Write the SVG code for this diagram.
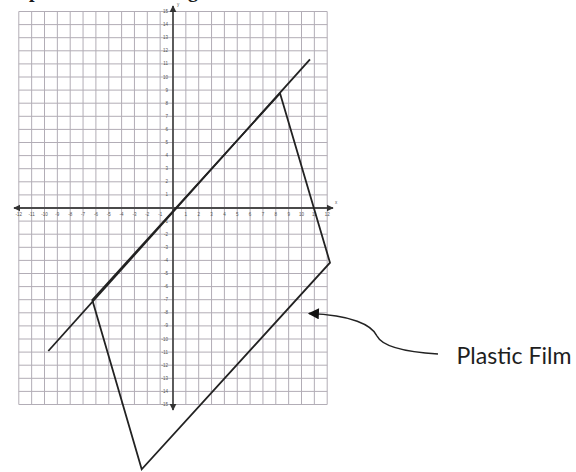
<svg xmlns="http://www.w3.org/2000/svg" width="576" height="472" viewBox="0 0 576 472">
<defs>
<style>
.grid{fill:none;stroke:#b2adb6;stroke-width:1}
.axis{fill:none;stroke:#4a4a4a;stroke-width:1.8}
.tick{font-family:"Liberation Sans",Arial,sans-serif;font-size:4.5px;fill:#555}
.shape{fill:none;stroke:#222;stroke-width:1.8;stroke-linejoin:miter}
.lbl{font-family:Lato,"Liberation Sans",sans-serif;font-size:23px;fill:#1e1e1e}
.head{font-family:"Liberation Serif",serif;font-size:20px;font-weight:bold;fill:#1a1a1a}
</style>
<marker id="ah" viewBox="0 0 10 10" refX="9" refY="5" markerWidth="4" markerHeight="4" orient="auto-start-reverse">
<path d="M0,0 L10,5 L0,10 z" fill="#333"/>
</marker>
<marker id="pt" viewBox="0 0 10 10" refX="9" refY="5" markerWidth="13" markerHeight="11" markerUnits="userSpaceOnUse" orient="auto">
<path d="M0,0 L10,5 L0,10 z" fill="#111"/>
</marker>
</defs>
<rect width="576" height="472" fill="#fff"/>
<g id="heading">
<text class="head" x="29" y="-3">p</text>
<text class="head" x="188" y="-3">g</text>
</g>
<g id="grid">
<path class="grid" d="M18.8,11.5V404.5M31.65,11.5V404.5M44.5,11.5V404.5M57.35,11.5V404.5M70.2,11.5V404.5M83.05,11.5V404.5M95.9,11.5V404.5M108.75,11.5V404.5M121.6,11.5V404.5M134.45,11.5V404.5M147.3,11.5V404.5M160.15,11.5V404.5M185.85,11.5V404.5M198.7,11.5V404.5M211.55,11.5V404.5M224.4,11.5V404.5M237.25,11.5V404.5M250.1,11.5V404.5M262.95,11.5V404.5M275.8,11.5V404.5M288.65,11.5V404.5M301.5,11.5V404.5M314.35,11.5V404.5M327.2,11.5V404.5
M18.8,11.5H327.2M18.8,24.6H327.2M18.8,37.7H327.2M18.8,50.8H327.2M18.8,63.9H327.2M18.8,77H327.2M18.8,90.1H327.2M18.8,103.2H327.2M18.8,116.3H327.2M18.8,129.4H327.2M18.8,142.5H327.2M18.8,155.6H327.2M18.8,168.7H327.2M18.8,181.8H327.2M18.8,194.9H327.2M18.8,221.1H327.2M18.8,234.2H327.2M18.8,247.3H327.2M18.8,260.4H327.2M18.8,273.5H327.2M18.8,286.6H327.2M18.8,299.7H327.2M18.8,312.8H327.2M18.8,325.9H327.2M18.8,339H327.2M18.8,352.1H327.2M18.8,365.2H327.2M18.8,378.3H327.2M18.8,391.4H327.2M18.8,404.5H327.2"/>
</g>
<g id="axes">
<line class="axis" x1="14" y1="208" x2="333" y2="208" marker-start="url(#ah)" marker-end="url(#ah)"/>
<line class="axis" x1="173" y1="6" x2="173" y2="410" marker-start="url(#ah)" marker-end="url(#ah)"/>
<text class="tick" x="335" y="204">x</text>
<text class="tick" x="177" y="6">y</text>
<g class="tick" text-anchor="middle">
<text x="18.8" y="216">-12</text><text x="31.65" y="216">-11</text><text x="44.5" y="216">-10</text><text x="57.35" y="216">-9</text><text x="70.2" y="216">-8</text><text x="83.05" y="216">-7</text><text x="95.9" y="216">-6</text><text x="108.75" y="216">-5</text><text x="121.6" y="216">-4</text><text x="134.45" y="216">-3</text><text x="147.3" y="216">-2</text><text x="160.15" y="216">-1</text>
<text x="185.85" y="216">1</text><text x="198.7" y="216">2</text><text x="211.55" y="216">3</text><text x="224.4" y="216">4</text><text x="237.25" y="216">5</text><text x="250.1" y="216">6</text><text x="262.95" y="216">7</text><text x="275.8" y="216">8</text><text x="288.65" y="216">9</text><text x="301.5" y="216">10</text><text x="314.35" y="216">11</text><text x="327.2" y="216">12</text>
</g>
<g class="tick" text-anchor="end">
<text x="168" y="13">15</text><text x="168" y="26">14</text><text x="168" y="39">13</text><text x="168" y="52.3">12</text><text x="168" y="65.4">11</text><text x="168" y="78.5">10</text><text x="168" y="91.6">9</text><text x="168" y="104.7">8</text><text x="168" y="117.8">7</text><text x="168" y="130.9">6</text><text x="168" y="144">5</text><text x="168" y="157.1">4</text><text x="168" y="170.2">3</text><text x="168" y="183.3">2</text><text x="168" y="196.4">1</text>
<text x="168" y="222.6">-1</text><text x="168" y="235.7">-2</text><text x="168" y="248.8">-3</text><text x="168" y="261.9">-4</text><text x="168" y="275">-5</text><text x="168" y="288.1">-6</text><text x="168" y="301.2">-7</text><text x="168" y="314.3">-8</text><text x="168" y="327.4">-9</text><text x="168" y="340.5">-10</text><text x="168" y="353.6">-11</text><text x="168" y="366.7">-12</text><text x="168" y="379.8">-13</text><text x="168" y="392.9">-14</text><text x="168" y="406">-15</text>
</g>
</g>
<g id="mirror-line">
<line class="shape" x1="48.3" y1="351" x2="310" y2="59.3" stroke-width="2"/>
</g>
<g id="plastic-film">
<polygon class="shape" points="280,93.3 330,262.7 141.7,469.3 92.3,300"/>
</g>
<g id="label">
<text class="lbl" x="456.5" y="364" textLength="115" lengthAdjust="spacingAndGlyphs">Plastic Film</text>
</g>
<g id="connectors">
<path d="M438,354 C405,352 382,346 377,336 C372,325 352,315 309,313.5" fill="none" stroke="#222" stroke-width="1.6" marker-end="url(#pt)"/>
</g>
</svg>
